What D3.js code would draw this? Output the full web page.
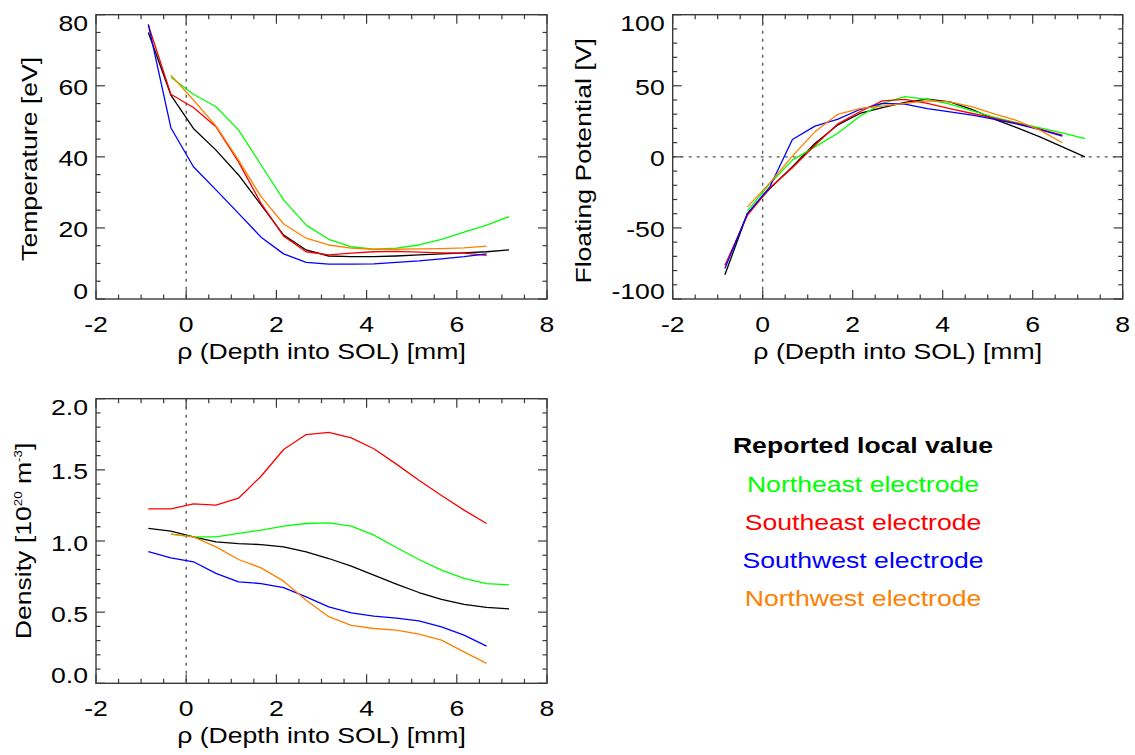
<!DOCTYPE html>
<html>
<head>
<meta charset="utf-8">
<script src="https://cdn.jsdelivr.net/npm/d3@7"></script>
<style>
  body { margin: 0; background: #fff; }
  text { font-family: "Liberation Sans", Arial, sans-serif; }
</style>
</head>
<body>
<script>
// depth positions (mm)
let rhoAll = [-0.84, -0.34, 0.16, 0.66, 1.16, 1.66, 2.16, 2.66, 3.16, 3.66, 4.16, 4.66, 5.16, 5.66, 6.16, 6.66, 7.16];
let rhoBlack = rhoAll;
let rhoRed = rhoAll.slice(0, 16);
let rhoBlue = rhoAll.slice(0, 16);
let rhoGreen = rhoAll.slice(1, 17);
let rhoOrange = rhoAll.slice(1, 16);

// temperature [eV]
let tempBlack = [75.0, 57.4, 48.0, 41.9, 34.9, 26.5, 18.0, 13.8, 12.1, 11.9, 11.9, 12.1, 12.4, 12.7, 13.0, 13.3, 13.8];
let tempGreen = [62.4, 57.6, 54.1, 47.6, 37.7, 27.9, 20.8, 16.8, 14.7, 14.0, 14.3, 15.2, 16.8, 18.8, 20.8, 23.2];
let tempRed = [77.1, 57.6, 53.9, 48.5, 38.6, 26.9, 17.7, 13.3, 12.4, 12.9, 13.3, 13.4, 13.2, 13.0, 12.9, 12.3];
let tempBlue = [77.3, 48.2, 37.2, 30.7, 24.1, 17.4, 12.7, 10.3, 9.8, 9.8, 9.9, 10.3, 10.7, 11.3, 11.9, 12.7];
let tempOrange = [63.0, 56.0, 48.7, 39.1, 28.8, 21.1, 17.1, 15.2, 14.3, 14.0, 14.0, 14.1, 14.2, 14.4, 14.9];

// floating potential [V]
let vfBlack = [-83.0, -39.9, -22.3, -7.0, 9.4, 22.3, 30.5, 34.7, 38.3, 40.6, 38.7, 33.3, 26.3, 20.4, 14.1, 7.0, 0.0];
let vfGreen = [-38.0, -18.8, -2.3, 7.0, 16.4, 28.6, 37.6, 42.3, 40.4, 37.1, 32.4, 27.7, 23.9, 20.4, 16.9, 12.9];
let vfRed = [-76.3, -41.1, -21.8, -7.7, 8.2, 23.0, 31.7, 39.4, 40.4, 37.6, 34.0, 30.5, 27.0, 23.5, 19.5, 15.3];
let vfBlue = [-78.6, -39.9, -21.1, 12.2, 21.6, 26.3, 33.3, 37.6, 37.1, 34.0, 31.7, 29.3, 26.3, 23.0, 19.2, 14.6];
let vfOrange = [-35.2, -18.3, 0.5, 17.6, 29.8, 34.0, 35.7, 37.6, 39.4, 38.7, 35.2, 30.0, 25.4, 18.8, 9.9];

// density [1e20 m^-3]
let denBlack = [1.088, 1.069, 1.029, 0.994, 0.982, 0.975, 0.959, 0.924, 0.877, 0.823, 0.760, 0.697, 0.638, 0.589, 0.554, 0.533, 0.523];
let denGreen = [1.048, 1.029, 1.029, 1.053, 1.076, 1.104, 1.123, 1.128, 1.104, 1.041, 0.954, 0.870, 0.795, 0.737, 0.701, 0.692];
let denRed = [1.226, 1.226, 1.261, 1.252, 1.301, 1.455, 1.643, 1.748, 1.764, 1.725, 1.648, 1.540, 1.427, 1.320, 1.217, 1.123];
let denBlue = [0.926, 0.882, 0.854, 0.772, 0.713, 0.701, 0.673, 0.608, 0.537, 0.495, 0.472, 0.458, 0.439, 0.397, 0.338, 0.261];
let denOrange = [1.048, 1.029, 0.959, 0.870, 0.811, 0.718, 0.584, 0.468, 0.407, 0.385, 0.374, 0.345, 0.303, 0.221, 0.140];

let xTicks = [-2, 0, 2, 4, 6, 8];
let legendLabels = ["Reported local value", "Northeast electrode", "Southeast electrode", "Southwest electrode", "Northwest electrode"];
let colors = { black: "#000000", green: "#00ff00", red: "#ff0000", blue: "#0000ff", orange: "#ff8000" };

let width = 1135;
let height = 755;
let fontSize = 22;
let stretch = 1.21;
let frameColor = "#3a3a3a";

let svg = d3.select("body")
            .append("svg")
            .attr("width", width)
            .attr("height", height);

// IDL prints a plain hyphen for negatives
let hyphen = (f) => (v) => f(v).replace("\u2212", "-");

function addText(x, y, s, anchor, rot, bold, color) {
    return svg.append("text")
        .attr("transform", `translate(${x},${y}) rotate(${rot || 0}) scale(${stretch},1)`)
        .attr("text-anchor", anchor || "middle")
        .style("font-size", fontSize + "px")
        .style("font-weight", bold ? "bold" : "normal")
        .style("fill", color || "#000")
        .text(s);
}

function drawPanel(box, yDomain, yMajor, yMinor, yFmt, series, zeroLine) {
    let x = d3.scaleLinear().domain([-2, 8]).range([box.left, box.right]);
    let y = d3.scaleLinear().domain(yDomain).range([box.bottom, box.top]);
    let g = svg.append("g");

    // dotted reference lines
    g.append("line")
        .attr("x1", x(0)).attr("x2", x(0))
        .attr("y1", box.top).attr("y2", box.bottom)
        .style("stroke", "#555").style("stroke-width", 1.3)
        .style("stroke-dasharray", "3,5");
    if (zeroLine) {
        g.append("line")
            .attr("x1", box.left).attr("x2", box.right)
            .attr("y1", y(0)).attr("y2", y(0))
            .style("stroke", "#555").style("stroke-width", 1.3)
            .style("stroke-dasharray", "3,5");
    }

    // series
    let line = d3.line()
        .x((d) => x(d[0]))
        .y((d) => y(d[1]));
    series.forEach((s) => {
        g.append("path")
            .attr("d", line(d3.zip(s.xs, s.ys)))
            .style("fill", "none")
            .style("stroke", s.color)
            .style("stroke-width", 1.3)
            .style("stroke-linejoin", "round");
    });

    // frame
    g.append("rect")
        .attr("x", box.left).attr("y", box.top)
        .attr("width", box.right - box.left)
        .attr("height", box.bottom - box.top)
        .style("fill", "none")
        .style("stroke", frameColor)
        .style("stroke-width", 1.4);

    // ticks on all four sides
    let major = 9, minor = 4.5;
    let xMinor = d3.range(-2, 8.01, 0.5);
    xMinor.forEach((v) => {
        let len = (Math.abs(v % 2) < 1e-6) ? major : minor;
        g.append("line").attr("x1", x(v)).attr("x2", x(v))
            .attr("y1", box.bottom).attr("y2", box.bottom - len)
            .style("stroke", frameColor).style("stroke-width", 1.2);
        g.append("line").attr("x1", x(v)).attr("x2", x(v))
            .attr("y1", box.top).attr("y2", box.top + len)
            .style("stroke", frameColor).style("stroke-width", 1.2);
    });
    let yTicksAll = d3.range(yDomain[0], yDomain[1] + yMinor / 2, yMinor);
    yTicksAll.forEach((v) => {
        let r = (v - yDomain[0]) / yMajor;
        let len = (Math.abs(r - Math.round(r)) < 1e-6) ? major : minor;
        g.append("line").attr("x1", box.left).attr("x2", box.left + len)
            .attr("y1", y(v)).attr("y2", y(v))
            .style("stroke", frameColor).style("stroke-width", 1.2);
        g.append("line").attr("x1", box.right).attr("x2", box.right - len)
            .attr("y1", y(v)).attr("y2", y(v))
            .style("stroke", frameColor).style("stroke-width", 1.2);
    });

    // x tick labels and title
    xTicks.forEach((v) => addText(x(v), box.bottom + 33, String(v), "middle"));
    addText((box.left + box.right) / 2, box.bottom + 60, "ρ (Depth into SOL) [mm]", "middle");

    // y tick labels (end labels kept inside the frame, like IDL)
    let yMajorTicks = d3.range(yDomain[0], yDomain[1] + yMajor / 2, yMajor);
    yMajorTicks.forEach((v, i) => {
        let yy = y(v) + 9.5;
        if (i === 0) yy = y(v);
        if (i === yMajorTicks.length - 1) yy = y(v) + 16;
        addText(box.left - 8, yy, yFmt(v), "end");
    });

    return g;
}

let p1 = { left: 96, right: 547, top: 14.7, bottom: 299 };
let p2 = { left: 672.7, right: 1122.7, top: 14.7, bottom: 299 };
let p3 = { left: 96, right: 547, top: 398.7, bottom: 683.3 };

drawPanel(p1, [0, 80], 20, 5, hyphen(d3.format("d")), [
    { xs: rhoBlack, ys: tempBlack, color: colors.black },
    { xs: rhoGreen, ys: tempGreen, color: colors.green },
    { xs: rhoRed, ys: tempRed, color: colors.red },
    { xs: rhoBlue, ys: tempBlue, color: colors.blue },
    { xs: rhoOrange, ys: tempOrange, color: colors.orange }
], false);
addText(37, (p1.top + p1.bottom) / 2 + 2, "Temperature [eV]", "middle", -90);

drawPanel(p2, [-100, 100], 50, 10, hyphen(d3.format("d")), [
    { xs: rhoBlack, ys: vfBlack, color: colors.black },
    { xs: rhoGreen, ys: vfGreen, color: colors.green },
    { xs: rhoRed, ys: vfRed, color: colors.red },
    { xs: rhoBlue, ys: vfBlue, color: colors.blue },
    { xs: rhoOrange, ys: vfOrange, color: colors.orange }
], true);
addText(591, (p2.top + p2.bottom) / 2 + 4, "Floating Potential [V]", "middle", -90);

drawPanel(p3, [0, 2], 0.5, 0.1, hyphen(d3.format(".1f")), [
    { xs: rhoBlack, ys: denBlack, color: colors.black },
    { xs: rhoGreen, ys: denGreen, color: colors.green },
    { xs: rhoRed, ys: denRed, color: colors.red },
    { xs: rhoBlue, ys: denBlue, color: colors.blue },
    { xs: rhoOrange, ys: denOrange, color: colors.orange }
], false);

// density title with superscripts
let dt = addText(31, (p3.top + p3.bottom) / 2, "", "middle", -90);
dt.append("tspan").text("Density [10");
dt.append("tspan").attr("dy", -9).style("font-size", "11px").text("20");
dt.append("tspan").attr("dy", 9).text(" m");
dt.append("tspan").attr("dy", -9).style("font-size", "11px").text("-3");
dt.append("tspan").attr("dy", 9).text("]");

// legend
let legendColors = [colors.black, colors.green, colors.red, colors.blue, colors.orange];
let legendY = [453, 491.5, 529.5, 567.5, 605.5];
legendLabels.forEach((s, i) => {
    addText(863, legendY[i], s, "middle", 0, i === 0, legendColors[i]);
});
</script>
</body>
</html>
